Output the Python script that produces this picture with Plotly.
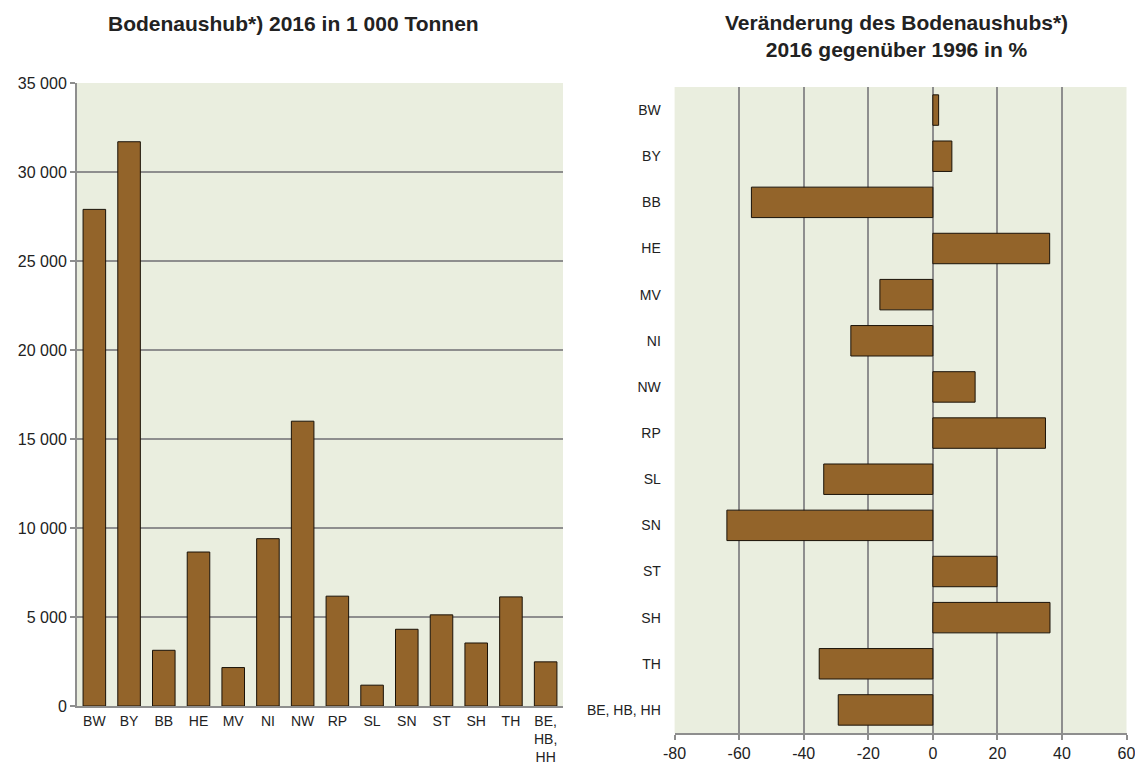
import plotly.graph_objects as go

# Data
laender = ["BW", "BY", "BB", "HE", "MV", "NI", "NW", "RP", "SL", "SN", "ST", "SH", "TH", "BE, HB, HH"]
laender_left_labels = ["BW", "BY", "BB", "HE", "MV", "NI", "NW", "RP", "SL", "SN", "ST", "SH", "TH", "BE,<br>HB,<br>HH"]
aushub_2016 = [27900, 31700, 3130, 8650, 2160, 9400, 16000, 6170, 1170, 4310, 5120, 3540, 6130, 2480]
veraenderung = [1.8, 5.9, -56.2, 36.2, -16.4, -25.4, 13.1, 34.9, -33.8, -63.8, 19.9, 36.3, -35.2, -29.3]
y_ticks_left = [0, 5000, 10000, 15000, 20000, 25000, 30000, 35000]
y_ticks_left_text = ["0", "5 000", "10 000", "15 000", "20 000", "25 000", "30 000", "35 000"]
x_ticks_right = [-80, -60, -40, -20, 0, 20, 40, 60]
x_ticks_right_text = ["-80", "-60", "-40", "-20", "0", "20", "40", "60"]

BAR = "#93642A"
BG = "#EAEEDF"
GRID = "#8E8E8E"
FONT = "Liberation Sans, Arial, sans-serif"
TXT = "#222222"

# page offset of the plot div (default body margin)
OX, OY = 8, 8
W, H = 1143 - OX, 765 - OY


def px(x):
    return (x - OX) / W


def py(y):
    return 1 - (y - OY) / H


fig = go.Figure()
fig.add_trace(go.Bar(
    x=laender_left_labels, y=aushub_2016, marker=dict(color=BAR, line=dict(color="#1a1208", width=1)),
    width=0.65, xaxis="x", yaxis="y", showlegend=False))
fig.add_trace(go.Bar(
    y=laender, x=veraenderung, orientation="h", marker=dict(color=BAR, line=dict(color="#1a1208", width=1)),
    width=0.66, xaxis="x2", yaxis="y2", showlegend=False))

fig.update_layout(
    width=W, height=H,
    margin=dict(l=0, r=0, t=0, b=0),
    paper_bgcolor="white",
    plot_bgcolor=BG,
    font=dict(family=FONT, size=14, color=TXT),
    xaxis=dict(domain=[px(77), px(563)], anchor="y", type="category", automargin=False,
               showgrid=False, showline=True, linecolor=GRID, linewidth=2,
               ticks="outside", ticklen=1, tickcolor="rgba(0,0,0,0)",
               tickfont=dict(size=14, color=TXT), fixedrange=True),
    yaxis=dict(domain=[py(706), py(83)], anchor="x", range=[0, 35000], automargin=False,
               tickvals=y_ticks_left, ticktext=y_ticks_left_text,
               showgrid=True, gridcolor=GRID, gridwidth=2, zeroline=False,
               showline=True, linecolor=GRID, linewidth=2,
               ticks="outside", ticklen=5, tickcolor=GRID, tickwidth=2,
               tickfont=dict(size=16, color=TXT), fixedrange=True),
    xaxis2=dict(domain=[px(674.6), px(1126.5)], anchor="y2", range=[-80, 60], automargin=False,
                tickvals=x_ticks_right, ticktext=x_ticks_right_text,
                showgrid=True, gridcolor=GRID, gridwidth=2, zeroline=False,
                showline=True, linecolor=GRID, linewidth=2,
                ticks="outside", ticklen=5, tickcolor=GRID, tickwidth=2,
                tickfont=dict(size=16, color=TXT), fixedrange=True),
    yaxis2=dict(domain=[py(733), py(87)], anchor="x2", type="category", automargin=False,
                autorange="reversed", showgrid=False, showline=False,
                ticks="outside", ticklen=10, tickcolor="rgba(0,0,0,0)",
                tickfont=dict(size=14, color=TXT), fixedrange=True),
)

fig.add_annotation(text="<b>Bodenaushub*) 2016 in 1 000 Tonnen</b>", xref="paper", yref="paper",
                   x=px(293), y=py(23), showarrow=False, font=dict(size=21, color=TXT),
                   xanchor="center", yanchor="middle")
fig.add_annotation(text="<b>Veränderung des Bodenaushubs*)<br>2016 gegenüber 1996 in %</b>", xref="paper", yref="paper",
                   x=px(896), y=py(36), showarrow=False, font=dict(size=21, color=TXT),
                   xanchor="center", yanchor="middle")

fig.write_html("out.html")
